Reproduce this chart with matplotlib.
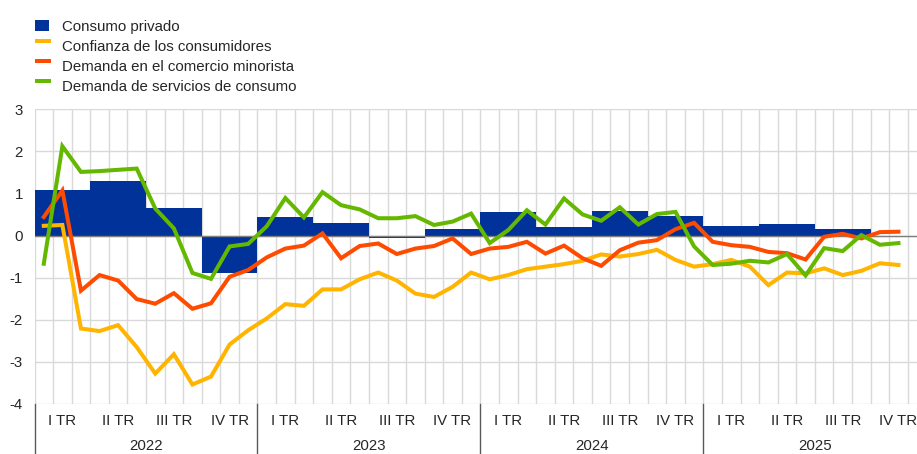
import matplotlib
matplotlib.use("Agg")
import matplotlib.pyplot as plt
from matplotlib.patches import Rectangle
from matplotlib.lines import Line2D
import numpy as np

plt.rcParams['font.family'] = ['Liberation Sans', 'DejaVu Sans']
FS = 10.8

# ---------------- data ----------------
years = ["2022", "2023", "2024", "2025"]
quarter_labels = ["I TR", "II TR", "III TR", "IV TR"]
series_names = ["Consumo privado", "Confianza de los consumidores",
                "Demanda en el comercio minorista", "Demanda de servicios de consumo"]

# quarterly private consumption, 2022 Q1 - 2025 Q3
consumo = [1.08, 1.29, 0.66, -0.88, 0.45, 0.29, -0.07, 0.15,
           0.55, 0.21, 0.59, 0.47, 0.23, 0.27, 0.15]
# monthly series, Jan 2022 - Nov 2025
confianza = [0.23, 0.25, -2.21, -2.27, -2.13, -2.65, -3.28, -2.82, -3.54, -3.35, -2.59, -2.25,
             -1.97, -1.63, -1.67, -1.28, -1.28, -1.04, -0.88, -1.07, -1.38, -1.46, -1.22, -0.88,
             -1.04, -0.94, -0.80, -0.74, -0.68, -0.60, -0.45, -0.50, -0.44, -0.34, -0.58, -0.74,
             -0.68, -0.58, -0.74, -1.18, -0.88, -0.90, -0.78, -0.94, -0.84, -0.66, -0.70]
comercio = [0.44, 1.07, -1.31, -0.94, -1.07, -1.51, -1.62, -1.37, -1.74, -1.61, -0.98, -0.82,
            -0.52, -0.31, -0.24, 0.05, -0.54, -0.25, -0.19, -0.44, -0.31, -0.25, -0.07, -0.44,
            -0.31, -0.27, -0.15, -0.43, -0.24, -0.54, -0.72, -0.35, -0.17, -0.11, 0.15, 0.30,
            -0.15, -0.23, -0.27, -0.39, -0.42, -0.57, -0.03, 0.04, -0.07, 0.08, 0.09]
servicios = [-0.67, 2.12, 1.51, 1.53, 1.56, 1.59, 0.64, 0.17, -0.89, -1.03, -0.26, -0.20,
             0.22, 0.89, 0.43, 1.03, 0.72, 0.62, 0.41, 0.41, 0.46, 0.25, 0.33, 0.52,
             -0.18, 0.13, 0.60, 0.26, 0.88, 0.50, 0.35, 0.67, 0.26, 0.51, 0.56, -0.26,
             -0.70, -0.67, -0.60, -0.64, -0.44, -0.95, -0.30, -0.37, 0.01, -0.22, -0.18]

C_BLUE = "#003299"
C_YEL = "#FFB400"
C_ORA = "#FF4B00"
C_GRN = "#65B800"
C_TXT = "#262626"

W, H = 917, 454
fig = plt.figure(figsize=(W / 100, H / 100), dpi=100)

# axes placement in pixels
x0, x1 = 34.5, 34.5 + 48 * 18.58
y_top, y_bot = 109.2, 403.9
ax = fig.add_axes([x0 / W, 1 - y_bot / H, (x1 - x0) / W, (y_bot - y_top) / H])

n_months = 12 * len(years)
ax.set_xlim(0, n_months)
ax.set_ylim(-4, 3)

# grid
ax.set_xticks(np.arange(0, n_months + 1))
ax.set_yticks(np.arange(-4, 4))
ax.grid(True, color="#d9d9d9", lw=1.0, zorder=0)
ax.set_axisbelow(True)
ax.tick_params(axis='x', length=0, labelbottom=False)
ax.tick_params(axis='y', length=0, pad=8.3, labelsize=FS, colors=C_TXT)
ax.set_yticklabels([str(v) for v in range(-4, 4)])
for s in ax.spines.values():
    s.set_visible(False)

# bars
q_starts = np.arange(len(consumo)) * 3
ax.bar(q_starts, consumo, width=3, align='edge', color=C_BLUE, zorder=2, linewidth=0)

ax.axhline(0, color="#7f7f7f", lw=1.0, zorder=3)

# lines
mx = np.arange(len(confianza)) + 0.5
ax.plot(mx, confianza, color=C_YEL, lw=2.9, zorder=4, solid_joinstyle='miter')
ax.plot(mx, comercio, color=C_ORA, lw=2.9, zorder=5, solid_joinstyle='miter')
ax.plot(mx, servicios, color=C_GRN, lw=2.9, zorder=6, solid_joinstyle='miter')

# x axis labels
trans = ax.get_xaxis_transform()
for i, yr in enumerate(years):
    for q, ql in enumerate(quarter_labels):
        ax.text(12 * i + 3 * q + 1.5, -0.057, ql, transform=trans, ha='center', va='center',
                fontsize=FS, color=C_TXT)
    ax.text(12 * i + 6, -0.1445, yr, transform=trans, ha='center', va='center',
            fontsize=FS, color=C_TXT)
for i in range(len(years) + 1):
    ax.add_line(Line2D([12 * i, 12 * i], [0, -0.2], transform=trans, color="#595959",
                       lw=1.0, clip_on=False))

# legend (manual)
def fx(px):
    return px / W

def fy(py):
    return 1 - py / H

fig.add_artist(Rectangle((fx(35), fy(31)), 14.3 / W, 11 / H, transform=fig.transFigure,
                         color=C_BLUE, lw=0))
for yc, col in [(40.8, C_YEL), (61.0, C_ORA), (81.0, C_GRN)]:
    fig.add_artist(Rectangle((fx(35), fy(yc + 2)), 15.7 / W, 4 / H, transform=fig.transFigure,
                             color=col, lw=0))
for k, name in enumerate(series_names):
    fig.text(fx(62.3), fy(30.7 + 20 * k), name, ha='left', va='baseline', fontsize=FS,
             color=C_TXT)

fig.savefig("out.png", dpi=100)
